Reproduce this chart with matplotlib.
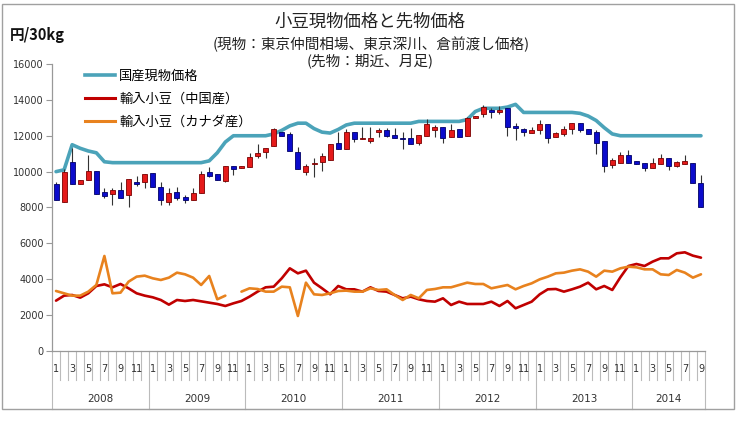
import numpy as np
import matplotlib
matplotlib.use('Agg')
import matplotlib.pyplot as plt
import matplotlib.transforms as mtransforms
from matplotlib.patches import Rectangle

plt.rcParams['font.family'] = ['Noto Sans CJK JP', 'DejaVu Sans']

# ---------------- data (monthly, Jan 2008 - Sep 2014) ----------------
years = ['2008', '2009', '2010', '2011', '2012', '2013', '2014']
months_per_year = [12, 12, 12, 12, 12, 12, 9]
month_tick_labels = ['1', '', '3', '', '5', '', '7', '', '9', '', '11', '']

fut_open = [9292, 8326, 10556, 9292, 9515, 10035, 8883, 8734, 8976, 8697, 9441, 9441,
            9905, 9162, 8288, 8883, 8567, 8400, 8790, 9998, 9849, 9478, 10314, 10184,
            10277, 10890, 11076, 11448, 12191, 12079, 11113, 9998, 10407, 10556, 10648, 11615,
            11243, 12191, 11801, 11726, 12191, 12321, 12042, 11894, 11856, 11578, 12005, 12321,
            12507, 11949, 12377, 11987, 12971, 13194, 13436, 13306, 13529, 12544, 12358, 12172,
            12302, 12674, 11949, 12098, 12358, 12693, 12358, 12210, 11708, 10370, 10500, 10909,
            10574, 10463, 10184, 10425, 10779, 10314, 10425, 10463, 9348]
fut_close = [8418, 9998, 9292, 9533, 10035, 8734, 8660, 8976, 8548, 9571, 9329, 9868,
             9162, 8418, 8827, 8511, 8400, 8790, 9868, 9756, 9533, 10314, 10147, 10314,
             10834, 11057, 11299, 12377, 11987, 11150, 10147, 10314, 10500, 10871, 11541, 11243,
             12191, 11819, 11856, 11894, 12321, 12005, 11856, 11819, 11541, 12042, 12637, 12470,
             11894, 12321, 11949, 13008, 13120, 13622, 13343, 13436, 12470, 12414, 12191, 12302,
             12674, 11894, 12135, 12395, 12711, 12321, 12117, 11615, 10314, 10630, 10909, 10500,
             10444, 10184, 10481, 10741, 10314, 10537, 10593, 9348, 8010]
fut_high = [9403, 10150, 11300, 9533, 10927, 10035, 9069, 9069, 9403, 9571, 9775, 9868,
            9905, 9403, 9069, 9162, 8697, 9069, 10035, 10277, 9849, 10314, 10314, 10314,
            11020, 11522, 11299, 12451, 12191, 12228, 11392, 10407, 10779, 11020, 11541, 12228,
            12377, 12191, 12507, 12507, 12414, 12414, 12414, 12228, 12414, 12042, 12934, 12600,
            12507, 12637, 12377, 13064, 13120, 13715, 13529, 13680, 13529, 12693, 12451, 12507,
            12878, 12674, 12191, 12563, 12711, 12693, 12358, 12321, 11708, 10741, 11076, 11206,
            10574, 10463, 10741, 10964, 10779, 10593, 10927, 10463, 9812]
fut_low = [8418, 8326, 9292, 9292, 9515, 8734, 8511, 8140, 8548, 8047, 9218, 9069,
           9162, 8140, 8140, 8418, 8233, 8400, 8790, 9719, 9533, 9403, 9812, 10184,
           10277, 10741, 10741, 11448, 11987, 11150, 10147, 9812, 9719, 10035, 10648, 11243,
           11243, 11671, 11801, 11615, 11949, 11949, 11856, 11262, 11541, 11485, 12005, 11949,
           11578, 11949, 11949, 11987, 12971, 13064, 13008, 13194, 12005, 11764, 12005, 12172,
           12079, 11578, 11949, 12005, 12079, 12191, 12117, 10964, 9998, 10221, 10500, 10500,
           10444, 10035, 10184, 10425, 10091, 10258, 10425, 9348, 8010]

spot_domestic = [10000, 10100, 11500, 11300, 11150, 11050, 10550, 10500, 10500, 10500, 10500, 10500,
                 10500, 10500, 10500, 10500, 10500, 10500, 10500, 10600, 11050, 11650, 12000, 12000,
                 12000, 12000, 12000, 12100, 12300, 12550, 12700, 12700, 12400, 12200, 12150, 12350,
                 12600, 12700, 12700, 12700, 12700, 12700, 12700, 12700, 12700, 12800, 12800, 12800,
                 12800, 12800, 12800, 12900, 13350, 13530, 13530, 13530, 13600, 13750, 13300, 13300,
                 13300, 13300, 13300, 13300, 13300, 13250, 13100, 12850, 12450, 12100, 12000, 12000,
                 12000, 12000, 12000, 12000, 12000, 12000, 12000, 12000, 12000]
import_china = [2807, 3086, 3123, 2974, 3216, 3624, 3717, 3550, 3736, 3494, 3216, 3086,
                2993, 2844, 2584, 2844, 2788, 2844, 2770, 2695, 2621, 2510, 2658, 2788,
                3030, 3309, 3550, 3587, 4052, 4609, 4330, 4479, 3810, 3494, 3160, 3624,
                3439, 3439, 3309, 3550, 3346, 3309, 3123, 2937, 3030, 2881, 2788, 2751,
                2937, 2565, 2751, 2621, 2621, 2621, 2751, 2510, 2788, 2380, 2565, 2751,
                3160, 3439, 3457, 3309, 3439, 3587, 3810, 3439, 3624, 3402, 4108, 4739,
                4851, 4739, 4981, 5167, 5167, 5445, 5501, 5315, 5204]
import_canada = [3346, 3216, 3086, 3086, 3309, 3680, 5297, 3216, 3253, 3866, 4145, 4200,
                 4052, 3959, 4089, 4368, 4275, 4089, 3680, 4182, 2881, 3086, np.nan, 3309,
                 3494, 3457, 3309, 3309, 3587, 3550, 1952, 3810, 3160, 3123, 3216, 3346,
                 3365, 3309, 3309, 3494, 3402, 3439, 3123, 2844, 3123, 2937, 3402, 3457,
                 3550, 3550, 3680, 3810, 3736, 3736, 3494, 3587, 3680, 3439, 3624, 3773,
                 3996, 4145, 4330, 4368, 4479, 4553, 4423, 4145, 4479, 4423, 4609, 4702,
                 4665, 4553, 4553, 4275, 4237, 4516, 4368, 4089, 4275]

series_names = ['国産現物価格', '輸入小豆（中国産）', '輸入小豆（カナダ産）']
title_lines = ['小豆現物価格と先物価格', '(現物：東京仲間相場、東京深川、倉前渡し価格)', '(先物：期近、月足)']
y_unit = '円/30kg'
y_ticks = [0, 2000, 4000, 6000, 8000, 10000, 12000, 14000, 16000]

# ---------------- figure ----------------
W, H = 742, 421
fig = plt.figure(figsize=(W / 100, H / 100), dpi=100)
ax = fig.add_axes([52 / W, 1 - 351 / H, (705 - 52) / W, 287 / H])

n = len(fut_open)
x = np.arange(n)
o = np.array(fut_open, float)
c = np.array(fut_close, float)
hi = np.array(fut_high, float)
lo = np.array(fut_low, float)

teal = '#4BA3B9'
red_line = '#C00000'
orange_line = '#E8821E'

ax.plot(x, import_china, color=red_line, lw=1.9, zorder=2, solid_capstyle='round')
ax.plot(x, import_canada, color=orange_line, lw=1.9, zorder=2, solid_capstyle='round')
ax.plot(x, spot_domestic, color=teal, lw=2.6, zorder=3, solid_capstyle='round')

# candlesticks
ax.vlines(x, lo, hi, color='#333333', lw=0.8, zorder=4)
up = c >= o
bottoms = np.minimum(o, c)
heights = np.maximum(np.abs(c - o), 70)
ax.bar(x[up], heights[up], bottom=bottoms[up], width=0.62,
       color='#E51A1A', edgecolor='#7A0000', linewidth=0.6, zorder=5)
ax.bar(x[~up], heights[~up], bottom=bottoms[~up], width=0.62,
       color='#0B0BCC', edgecolor='#000066', linewidth=0.6, zorder=5)

ax.set_xlim(-0.5, n - 0.5)
ax.set_ylim(0, 16000)
ax.set_yticks(y_ticks)
ax.set_yticklabels([str(v) for v in y_ticks], fontsize=7, family='DejaVu Sans', color='#333333')
ax.tick_params(axis='y', length=4, width=0.8, color='#999999', pad=2)
ax.set_xticks([])
for s in ['top', 'right']:
    ax.spines[s].set_visible(False)
for s in ['left', 'bottom']:
    ax.spines[s].set_color('#999999')
    ax.spines[s].set_linewidth(0.9)

# multi-level category axis
trans = mtransforms.blended_transform_factory(ax.transData, ax.transAxes)
year_edges = np.concatenate([[0], np.cumsum(months_per_year)])
y_month_bot = -29 / 287
y_year_bot = -58 / 287
for b in range(n + 1):
    xb = b - 0.5
    ybot = y_year_bot if b in year_edges else y_month_bot
    ax.plot([xb, xb], [0, ybot], transform=trans, color='#BBBBBB', lw=0.8,
            clip_on=False, zorder=1)
ax.plot([-0.5, n - 0.5], [y_year_bot, y_year_bot], transform=trans, color='#BBBBBB',
        lw=0.8, clip_on=False)
for i in range(n):
    lab = month_tick_labels[i % 12]
    if lab:
        ax.text(i, -18 / 287, lab, transform=trans, ha='center', va='center',
                fontsize=7, family='DejaVu Sans', color='#333333')
for k, yr in enumerate(years):
    xc = (year_edges[k] + year_edges[k + 1] - 1) / 2
    ax.text(xc, -48 / 287, yr, transform=trans, ha='center', va='center',
            fontsize=7.5, family='DejaVu Sans', color='#333333')

# legend
handles = [plt.Line2D([], [], color=teal, lw=2.6),
           plt.Line2D([], [], color=red_line, lw=2.2),
           plt.Line2D([], [], color=orange_line, lw=2.2)]
ax.legend(handles, series_names, loc='upper left', bbox_to_anchor=(85 / W, 1 - 70 / H),
          bbox_transform=fig.transFigure, frameon=False, fontsize=9.5,
          handlelength=2.3, handletextpad=0.3, labelspacing=0.75, borderpad=0,
          borderaxespad=0)

# titles
fig.text(370 / W, 1 - 22 / H, title_lines[0], ha='center', va='center', fontsize=12.5, color='#222222')
fig.text(371 / W, 1 - 44 / H, title_lines[1], ha='center', va='center', fontsize=10.5, color='#222222')
fig.text(370 / W, 1 - 61 / H, title_lines[2], ha='center', va='center', fontsize=10.5, color='#222222')
fig.text(10 / W, 1 - 35 / H, y_unit, ha='left', va='center', fontsize=10.5, fontweight='bold', color='#111111')

# outer border
fig.add_artist(Rectangle((2 / W, 1 - 409 / H), (734 - 2) / W, (409 - 4) / H,
                         transform=fig.transFigure, fill=False, edgecolor='#A0A0A0', lw=1))

fig.savefig('out.png', dpi=100)
